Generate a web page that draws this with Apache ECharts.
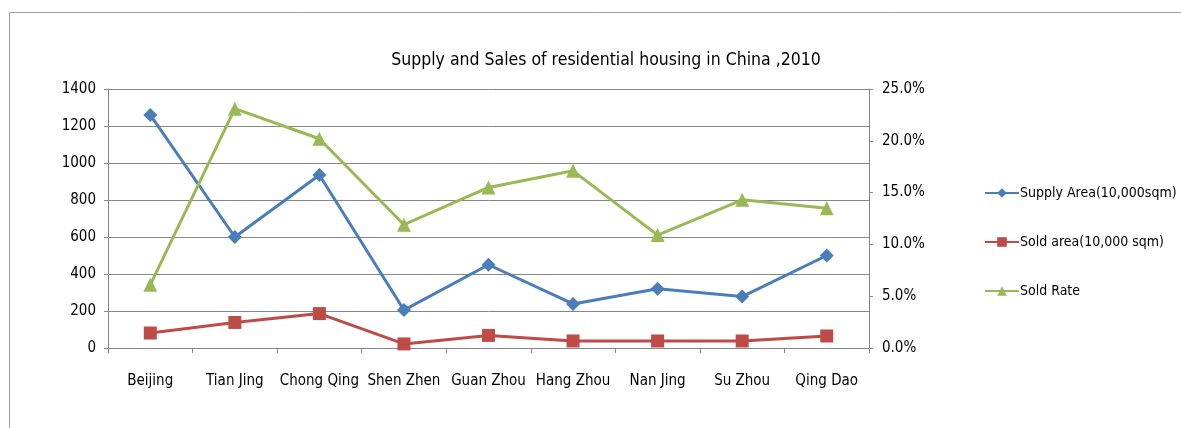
<!DOCTYPE html>
<html><head><meta charset="utf-8">
<script src="https://cdn.jsdelivr.net/npm/echarts@6/dist/echarts.min.js"></script>
<style>html,body{margin:0;padding:0;background:#fff}#c{width:1181px;height:428px}</style>
</head><body><div id="c"></div>
<script>
const categories = ['Beijing','Tian Jing','Chong Qing','Shen Zhen','Guan Zhou','Hang Zhou','Nan Jing','Su Zhou','Qing Dao'];
const supplyArea = [1260, 600, 935, 205, 450, 238, 320, 278, 500];
const soldArea = [81, 138, 186, 22, 68, 38, 38, 38, 65];
const soldRate = [6.1, 23.1, 20.2, 11.9, 15.5, 17.1, 10.9, 14.3, 13.5];
const leftTicks = [0, 1400, 200];
const rightTicks = [0, 25, 5];

const FONT = "'Liberation Sans Narrow','DejaVu Sans Condensed',sans-serif";
const chart = echarts.init(document.getElementById('c'));
chart.setOption({
  animation: false,
  backgroundColor: '#fff',
  graphic: [{type:'rect', shape:{x:9.5,y:12.5,width:1200,height:430}, style:{fill:'none', stroke:'#a0a0a0', lineWidth:1}, silent:true}],
  title: {text: 'Supply and Sales of residential housing in China ,2010', left: 601, top: 46, textAlign: 'center',
    textStyle: {fontFamily: FONT, fontSize: 17.5, fontWeight: 'normal', color: '#000'}},
  legend: {orient: 'vertical', left: 979, top: 181, itemGap: 35, itemWidth: 34, itemHeight: 12,
    textStyle: {fontFamily: FONT, fontSize: 14, color: '#000', padding:[0,0,0,-4]}},
  grid: {left: 108, right: 312, top: 89, bottom: 80},
  xAxis: {type: 'category', data: categories, boundaryGap: true,
    axisLine: {lineStyle: {color: '#868686'}},
    axisTick: {show: true, interval: 0, length: 5, lineStyle: {color: '#868686'}},
    axisLabel: {interval: 0, fontFamily: FONT, fontSize: 15, color: '#000', margin: 26}},
  yAxis: [
    {type: 'value', min: leftTicks[0], max: leftTicks[1], interval: leftTicks[2],
      axisLine: {show: true, lineStyle: {color: '#868686'}},
      axisTick: {show: true, length: 4, lineStyle: {color: '#868686'}},
      splitLine: {lineStyle: {color: '#868686'}},
      axisLabel: {fontFamily: FONT, fontSize: 15, color: '#000', margin: 12, formatter: v => String(v)}},
    {type: 'value', position: 'right', min: rightTicks[0], max: rightTicks[1], interval: rightTicks[2],
      axisLine: {show: true, lineStyle: {color: '#868686'}},
      axisTick: {show: true, length: 4, lineStyle: {color: '#868686'}},
      splitLine: {show: false},
      axisLabel: {fontFamily: FONT, fontSize: 15, color: '#000', margin: 13, formatter: v => v.toFixed(1) + '%'}}
  ],
  series: [
    {name: 'Supply Area(10,000sqm)', type: 'line', data: supplyArea, yAxisIndex: 0,
      symbol: 'diamond', symbolSize: 14, lineStyle: {width: 3, color: '#4A7EBB'}, itemStyle: {color: '#4A7EBB'}},
    {name: 'Sold area(10,000 sqm)', type: 'line', data: soldArea, yAxisIndex: 0,
      symbol: 'rect', symbolSize: 13, lineStyle: {width: 3, color: '#BE4B48'}, itemStyle: {color: '#BE4B48'}},
    {name: 'Sold Rate', type: 'line', data: soldRate, yAxisIndex: 1,
      symbol: 'triangle', symbolSize: 14, lineStyle: {width: 3, color: '#98B954'}, itemStyle: {color: '#98B954'}}
  ]
});
</script></body></html>
